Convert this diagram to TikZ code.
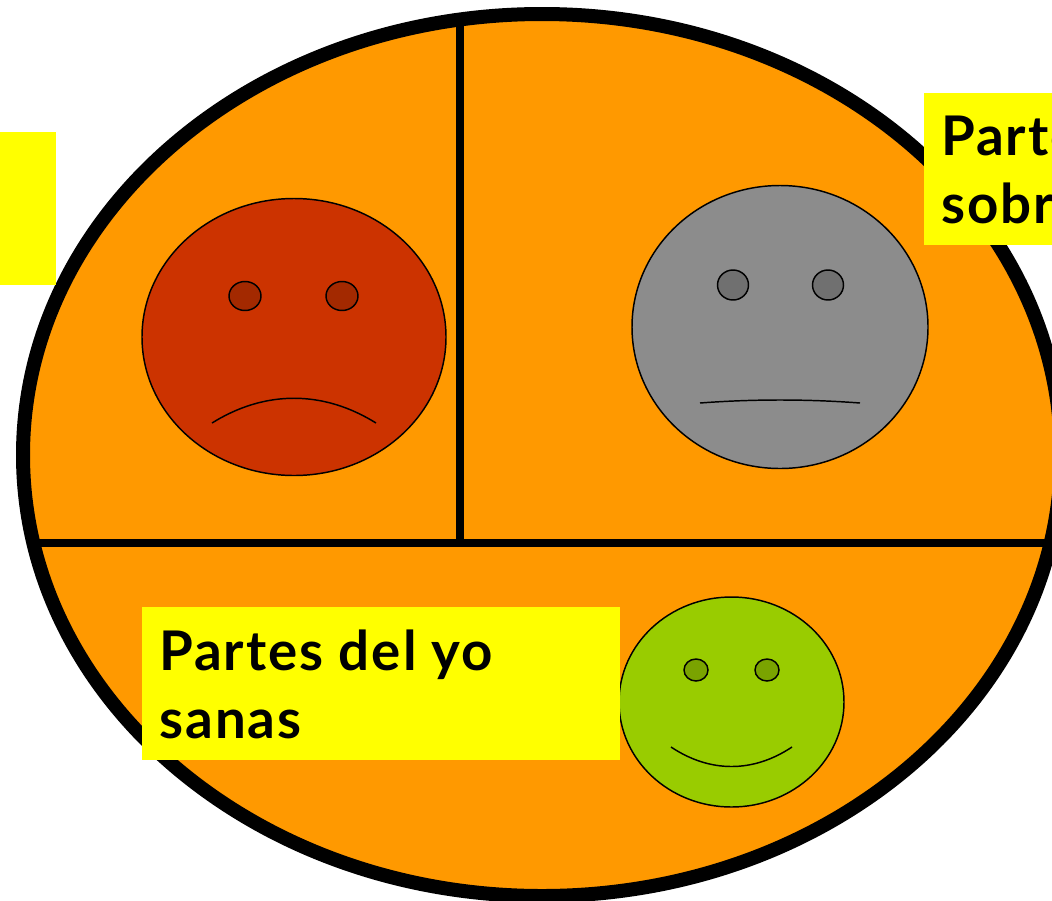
\documentclass[tikz,border=0pt]{standalone}
\usepackage{fontspec}
\setmainfont[LetterSpace=3.6]{Lato}
\definecolor{ringfill}{HTML}{FF9900}
\definecolor{boxyellow}{HTML}{FFFF00}
\definecolor{redface}{HTML}{CC3300}
\definecolor{redeye}{HTML}{A32900}
\definecolor{greyface}{HTML}{8C8C8C}
\definecolor{greyeye}{HTML}{707070}
\definecolor{greenface}{HTML}{99CC00}
\definecolor{greeneye}{HTML}{7AA300}
\tikzset{
  ring/.style={draw=black,line width=10.5pt,fill=ringfill},
  split/.style={draw=black,line width=5.6pt},
  face/.style={draw=black,line width=1.1pt},
  mouth/.style={draw=black,line width=1.1pt},
  yelbox/.style={fill=boxyellow,anchor=north west,inner sep=0pt,outer sep=0pt},
  boxtext/.style={anchor=base west,inner sep=0pt,font=\fontsize{41}{41}\selectfont\bfseries}
}
\begin{document}
\begin{tikzpicture}[x=0.75pt,y=-0.75pt]
  \useasboundingbox (0,0) rectangle (1052,900);
  \clip (0,0) rectangle (1052,900);
  % disc and its two dividing lines
  \path[ring] (542,455) ellipse [x radius=519,y radius=441];
  \begin{scope}
    \clip (542,455) ellipse [x radius=519,y radius=441];
    \draw[split] (460,0) -- (460,543);
    \draw[split] (0,543) -- (1052,543);
  \end{scope}
  % sad face
  \path[face,fill=redface] (294,337) ellipse [x radius=152,y radius=138.5];
  \path[face,fill=redeye] (245,296) ellipse [x radius=16,y radius=14.5];
  \path[face,fill=redeye] (342,296) ellipse [x radius=16,y radius=14.5];
  \draw[mouth] (212,423) .. controls (265,390) and (323,390) .. (376,423);
  % neutral face
  \path[face,fill=greyface] (780,327) ellipse [x radius=148,y radius=141.5];
  \path[face,fill=greyeye] (733,285) ellipse [x radius=15.5,y radius=15];
  \path[face,fill=greyeye] (828,285) ellipse [x radius=15.5,y radius=15];
  \draw[mouth] (700,403) .. controls (753,399) and (807,399) .. (860,403);
  % happy face
  \path[face,fill=greenface] (731.5,702) ellipse [x radius=112.5,y radius=105];
  \path[face,fill=greeneye] (696,670) ellipse [x radius=12,y radius=11];
  \path[face,fill=greeneye] (767,670) ellipse [x radius=12,y radius=11];
  \draw[mouth] (671,747) .. controls (710,773) and (753,773) .. (792,747);
  % yellow boxes
  \node[yelbox,minimum width=42pt,minimum height=114.75pt] (leftbox) at (0,132) {};
  \node[yelbox,minimum width=110pt,minimum height=114pt] (rightbox) at (924,93) {};
  \node[yelbox,minimum width=358.5pt,minimum height=114.75pt] (sanasbox) at (142,607) {};
  \node[boxtext] (rightA) at (941,155) {Parte};
  \node[boxtext] (rightB) at (941,223) {sobr};
  \node[boxtext] (sanasA) at (159,670) {Partes del yo};
  \node[boxtext] (sanasB) at (159,738) {sanas};
\end{tikzpicture}
\end{document}
